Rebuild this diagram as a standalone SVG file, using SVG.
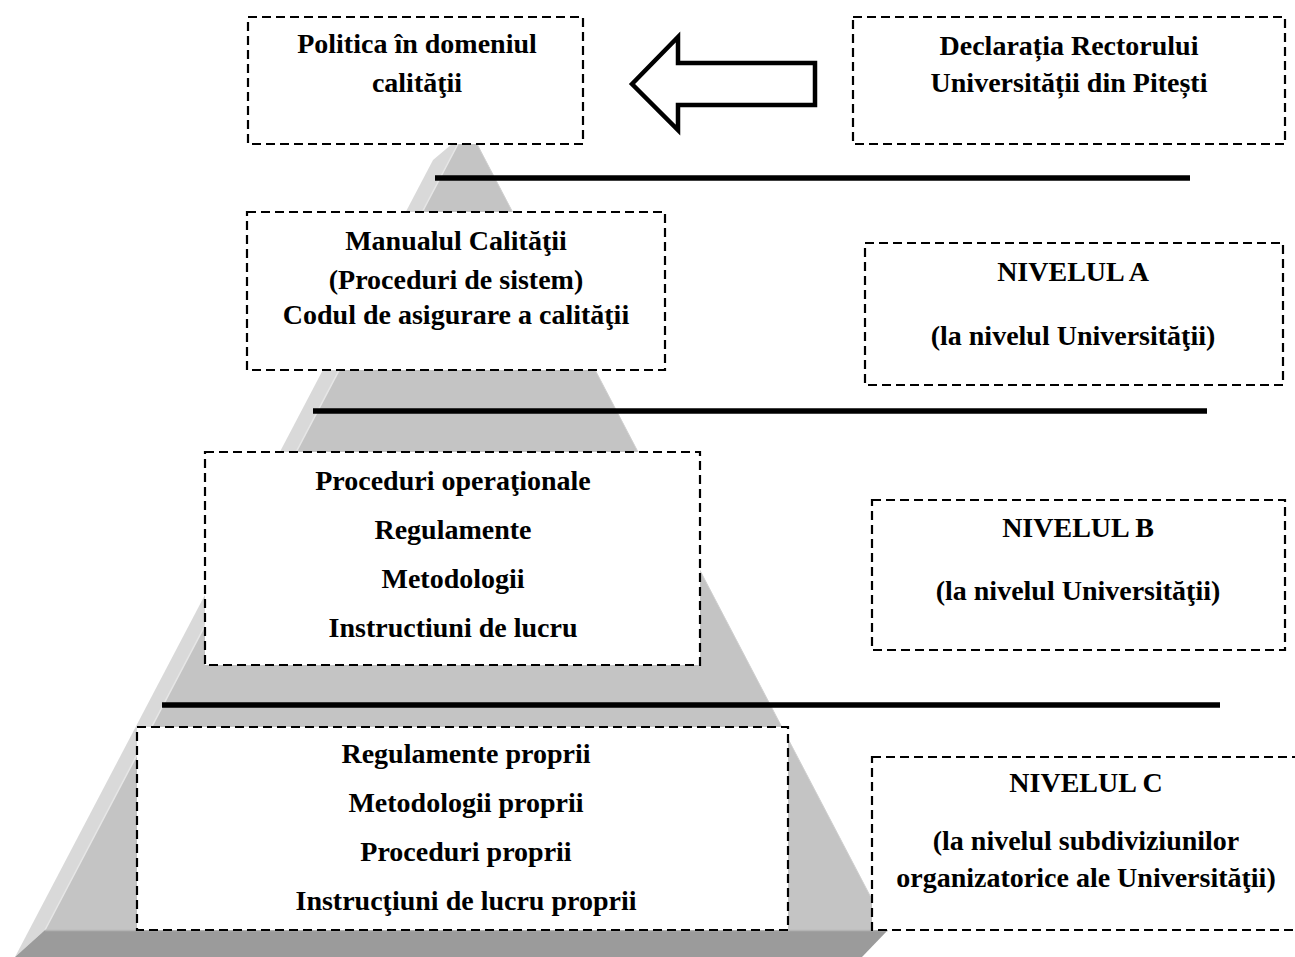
<svg xmlns="http://www.w3.org/2000/svg" width="1295" height="957" viewBox="0 0 1295 957">
  <style>
    .box { fill: #ffffff; stroke: #000000; stroke-width: 2.2; stroke-dasharray: 9 5; }
    .t { font-family: "Liberation Serif", "Times New Roman", serif; font-weight: bold; font-size: 28px; fill: #000000; text-anchor: middle; }
    .bar { stroke: #000000; stroke-width: 5.5; }
  </style>
  <rect width="1295" height="957" fill="#ffffff"/>
  <g id="pyramid">
    <polygon points="452,144 458,144 45,930 15,957 433,160" fill="#d9d9d9"/>
    <polygon points="458,144 477,144 888,930 45,930" fill="#c4c4c4"/>
    <line x1="458" y1="144" x2="45" y2="930" stroke="#e6e6e6" stroke-width="1.5"/>
    <line x1="477" y1="144" x2="888" y2="930" stroke="#d0d0d0" stroke-width="1"/>
    <polygon points="45,930 888,930 862,957 15,957" fill="#9b9b9b"/>
    <line x1="45" y1="930.5" x2="888" y2="930.5" stroke="#b4b4b4" stroke-width="1.5"/>
  </g>
  <g id="connectors">
    <line class="bar" x1="435" y1="178" x2="1190" y2="178"/>
    <line class="bar" x1="313" y1="411" x2="1207" y2="411"/>
    <line class="bar" x1="162" y1="705" x2="1220" y2="705"/>
    <polygon points="632,84 678,37 678,63 815,63 815,105 678,105 678,130" fill="#ffffff" stroke="#000000" stroke-width="4.5" stroke-linejoin="miter"/>
  </g>
  <g id="politica">
    <rect class="box" x="248" y="17" width="335" height="127"/>
    <text class="t" x="417" y="53">Politica în domeniul</text>
    <text class="t" x="417" y="92">calităţii</text>
  </g>
  <g id="declaratia">
    <rect class="box" x="853" y="17" width="432" height="127"/>
    <text class="t" x="1069" y="55">Declarația Rectorului</text>
    <text class="t" x="1069" y="92">Universității din Pitești</text>
  </g>
  <g id="manualul">
    <rect class="box" x="247" y="212" width="418" height="158"/>
    <text class="t" x="456" y="250">Manualul Calităţii</text>
    <text class="t" x="456" y="289">(Proceduri de sistem)</text>
    <text class="t" x="456" y="324">Codul de asigurare a calităţii</text>
  </g>
  <g id="nivelul-a">
    <rect class="box" x="865" y="243" width="418" height="142"/>
    <text class="t" x="1073" y="281">NIVELUL A</text>
    <text class="t" x="1073" y="345">(la nivelul Universităţii)</text>
  </g>
  <g id="proceduri">
    <rect class="box" x="205" y="452" width="495" height="213"/>
    <text class="t" x="453" y="490">Proceduri operaţionale</text>
    <text class="t" x="453" y="539">Regulamente</text>
    <text class="t" x="453" y="588">Metodologii</text>
    <text class="t" x="453" y="637">Instructiuni de lucru</text>
  </g>
  <g id="nivelul-b">
    <rect class="box" x="872" y="500" width="413" height="150"/>
    <text class="t" x="1078" y="537">NIVELUL B</text>
    <text class="t" x="1078" y="600">(la nivelul Universităţii)</text>
  </g>
  <g id="proprii">
    <rect class="box" x="137" y="727" width="651" height="203"/>
    <text class="t" x="466" y="763">Regulamente proprii</text>
    <text class="t" x="466" y="812">Metodologii proprii</text>
    <text class="t" x="466" y="861">Proceduri proprii</text>
    <text class="t" x="466" y="910">Instrucţiuni de lucru proprii</text>
  </g>
  <g id="nivelul-c">
    <rect class="box" x="872" y="757" width="460" height="173"/>
    <text class="t" x="1086" y="792">NIVELUL C</text>
    <text class="t" x="1086" y="850">(la nivelul subdiviziunilor</text>
    <text class="t" x="1086" y="887">organizatorice ale Universităţii)</text>
  </g>
</svg>
